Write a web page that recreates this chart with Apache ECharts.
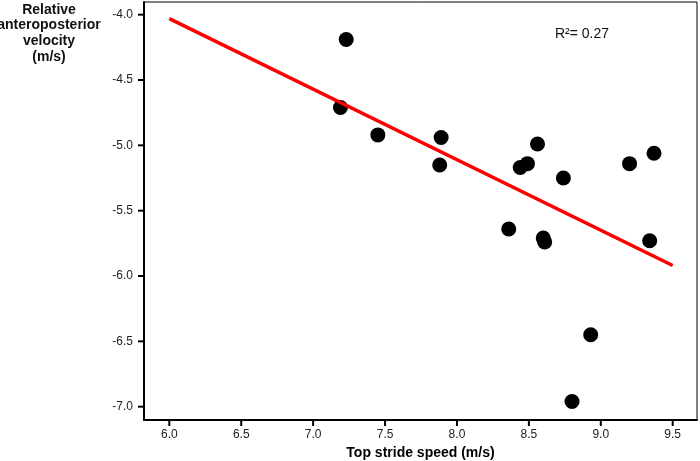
<!DOCTYPE html>
<html>
<head>
<meta charset="utf-8">
<script src="https://cdn.jsdelivr.net/npm/echarts@6/dist/echarts.min.js"></script>
<style>html,body{margin:0;padding:0;background:#fff}#c{width:700px;height:461px}</style>
</head>
<body>
<div id="c"></div>
<script>
var speed = [7.19, 7.23, 7.45, 7.89, 7.88, 8.44, 8.49, 8.56, 8.74, 9.20, 9.37, 8.36, 8.60, 8.61, 9.34, 8.93, 8.80];
var velocity = [-4.71, -4.19, -4.92, -4.94, -5.15, -5.17, -5.14, -4.99, -5.25, -5.14, -5.06, -5.64, -5.71, -5.74, -5.73, -6.45, -6.96];
var fitX = [6.0, 9.5];
var fitY = [-4.03, -5.92];
var xTicks = [6.0, 6.5, 7.0, 7.5, 8.0, 8.5, 9.0, 9.5];
var yTicks = [-4.0, -4.5, -5.0, -5.5, -6.0, -6.5, -7.0];
var r2Text = 'R²= 0.27';

var X_MIN = 5.824, X_MAX = 9.669, Y_MIN = -7.102, Y_MAX = -3.903;
var points = speed.map(function (s, i) { return [s, velocity[i]]; });
var fit = fitX.map(function (x, i) { return [x, fitY[i]]; });
var font = '"Liberation Sans", Arial, sans-serif';

var chart = echarts.init(document.getElementById('c'), null, {renderer: 'canvas'});
chart.setOption({
  animation: false,
  backgroundColor: '#fff',
  grid: {left: 144, right: 3, top: 2, bottom: 41, show: true, borderColor: '#000', borderWidth: 1,
    containLabel: false, outerBoundsMode: 'none'},
  xAxis: {
    type: 'value', min: X_MIN, max: X_MAX,
    splitLine: {show: false},
    axisLine: {show: true, onZero: false, lineStyle: {color: '#000', width: 2}},
    axisTick: {show: false},
    axisLabel: {customValues: xTicks, color: '#222', fontSize: 12, fontFamily: font, margin: 9,
      formatter: function (v) { return v.toFixed(1); }},
    name: 'Top stride speed (m/s)', nameLocation: 'middle', nameGap: 26,
    nameTextStyle: {color: '#000', fontSize: 14, fontWeight: 'bold', fontFamily: font}
  },
  yAxis: {
    type: 'value', min: Y_MIN, max: Y_MAX,
    splitLine: {show: false},
    axisLine: {show: true, onZero: false, lineStyle: {color: '#000', width: 2}},
    axisTick: {show: false},
    axisLabel: {customValues: yTicks, color: '#222', fontSize: 12, fontFamily: font, margin: 11,
      formatter: function (v) { return v.toFixed(1); }}
  },
  series: [
    {type: 'scatter', data: points, symbolSize: 15, itemStyle: {color: '#000', opacity: 1}, z: 2},
    {type: 'line', data: fit, symbol: 'none', lineStyle: {color: '#ff0000', width: 3.5}, z: 3}
  ]
});

var els = [
  {type: 'text', x: 49, y: 2, style: {text: 'Relative\nanteroposterior\nvelocity\n(m/s)', fill: '#111',
    font: 'bold 14px ' + font, align: 'center', verticalAlign: 'top', lineHeight: 15.7}},
  {type: 'text', x: 555, y: 34, style: {text: r2Text, fill: '#111',
    font: '14px ' + font, align: 'left', verticalAlign: 'middle'}}
];
// tick marks placed through the chart's own scales (drawn as small filled rects)
xTicks.forEach(function (v) {
  var p = chart.convertToPixel({xAxisIndex: 0, yAxisIndex: 0}, [v, Y_MIN]);
  els.push({type: 'rect', shape: {x: p[0] - 1, y: p[1], width: 2, height: 6},
    style: {fill: '#000'}, z: 100});
});
yTicks.forEach(function (v) {
  var p = chart.convertToPixel({xAxisIndex: 0, yAxisIndex: 0}, [X_MIN, v]);
  els.push({type: 'rect', shape: {x: p[0] - 6, y: p[1] - 1, width: 6, height: 2},
    style: {fill: '#000'}, z: 100});
});
chart.setOption({graphic: {elements: els}});
</script>
</body>
</html>
